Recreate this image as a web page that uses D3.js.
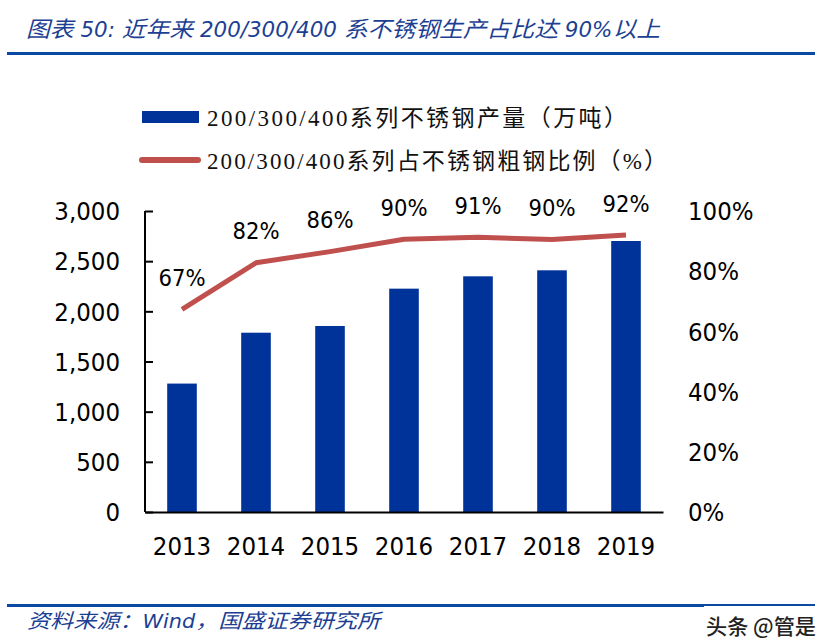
<!DOCTYPE html>
<html><head><meta charset="utf-8">
<script src="https://cdn.jsdelivr.net/npm/d3@7"></script>
<style>body{margin:0;background:#fff}svg{display:block}</style>
</head><body>
<svg id="c" width="825" height="642"></svg>
<script>
const years = ["2013","2014","2015","2016","2017","2018","2019"];
const output = [1280, 1787, 1854, 2226, 2349, 2409, 2701];
const share = [67.3, 82.8, 86.5, 90.6, 91.3, 90.5, 92.0];
const shareLabels = ["67%","82%","86%","90%","91%","90%","92%"];
const leftTicks = [0, 500, 1000, 1500, 2000, 2500, 3000];
const rightTicks = [0, 20, 40, 60, 80, 100];
const titleText = "图表 50:  近年来 200/300/400 系不锈钢生产占比达 90%以上";
const sourceText = "资料来源：Wind，国盛证券研究所";
const legendLabels = ["200/300/400系列不锈钢产量（万吨）", "200/300/400系列占不锈钢粗钢比例（%）"];
const watermark = "头条 @管是";

const svg = d3.select("#c");
const numFont = "'DejaVu Sans Condensed','DejaVu Sans',sans-serif";
const barColor = "#003399", lineColor = "#C0504D", blue = "#0B4AA2";

const x = d3.scaleBand().domain(years).range([145, 663]).paddingInner(0.6).paddingOuter(0.3);
const yL = d3.scaleLinear().domain([0, 3000]).range([512, 211]);
const yR = d3.scaleLinear().domain([0, 100]).range([512, 211]);

// title
svg.append("text").attr("x", 26).attr("y", 37)
  .attr("font-family", "'DejaVu Sans Condensed','Noto Sans CJK SC',sans-serif")
  .attr("font-style", "italic").attr("font-size", 22).attr("fill", "#1C3F94")
  .attr("textLength", 634).attr("lengthAdjust", "spacingAndGlyphs").text(titleText);
svg.append("rect").attr("x", 7).attr("y", 52).attr("width", 808).attr("height", 3).attr("fill", blue);

// legend
svg.append("rect").attr("x", 142).attr("y", 111).attr("width", 57).attr("height", 12).attr("fill", barColor);
svg.append("line").attr("x1", 142).attr("x2", 198).attr("y1", 160).attr("y2", 160)
  .attr("stroke", lineColor).attr("stroke-width", 6).attr("stroke-linecap", "round");
const legY = [118, 161], legEnd = [627, 667];
legendLabels.forEach((t, i) => {
  svg.append("text").attr("x", 207).attr("y", legY[i]).attr("dy", "0.35em")
    .attr("font-family", "'Liberation Serif','Noto Sans CJK SC',serif").attr("font-size", 23)
    .attr("fill", "#111").attr("textLength", legEnd[i] - 207).attr("lengthAdjust", "spacing").text(t);
});

// bars
svg.append("g").selectAll("rect").data(years).join("rect")
  .attr("x", d => x(d)).attr("width", x.bandwidth())
  .attr("y", (d, i) => yL(output[i])).attr("height", (d, i) => yL(0) - yL(output[i]))
  .attr("fill", barColor);

// left axis
const gL = svg.append("g").attr("transform", "translate(145,0)")
  .call(d3.axisRight(yL).tickValues(leftTicks).tickSize(8).tickFormat(""));
gL.select(".domain").attr("stroke", "#000").attr("stroke-width", 2).attr("d", "M0," + yL(3000) + "V" + yL(0));
gL.selectAll(".tick line").attr("stroke", "#000").attr("stroke-width", 2);
svg.append("g").selectAll("text").data(leftTicks).join("text")
  .attr("x", 120).attr("y", d => yL(d)).attr("dy", "0.36em").attr("text-anchor", "end")
  .attr("font-family", numFont).attr("font-size", 25.5).attr("fill", "#000")
  .text(d => d3.format(",")(d));

// right axis labels
svg.append("g").selectAll("text").data(rightTicks).join("text")
  .attr("x", 688).attr("y", d => yR(d)).attr("dy", "0.36em").attr("text-anchor", "start")
  .attr("font-family", numFont).attr("font-size", 25.5).attr("fill", "#000")
  .text(d => d + "%");

// x axis
const gX = svg.append("g").attr("transform", "translate(0,512)")
  .call(d3.axisBottom(x).tickSize(0).tickPadding(25));
gX.select(".domain").attr("stroke", "#000").attr("stroke-width", 2);
gX.selectAll("text").attr("font-family", numFont).attr("font-size", 25.5).attr("fill", "#000");

// line
const line = d3.line().x((d, i) => x(years[i]) + x.bandwidth() / 2).y(d => yR(d));
svg.append("path").datum(share).attr("d", line).attr("fill", "none")
  .attr("stroke", lineColor).attr("stroke-width", 5).attr("stroke-linejoin", "round");
svg.append("g").selectAll("text").data(share).join("text")
  .attr("x", (d, i) => x(years[i]) + x.bandwidth() / 2).attr("y", d => yR(d) - 32)
  .attr("dy", "0.36em").attr("text-anchor", "middle")
  .attr("font-family", numFont).attr("font-size", 23.5).attr("fill", "#000")
  .text((d, i) => shareLabels[i]);

// footer
svg.append("rect").attr("x", 7).attr("y", 604).attr("width", 808).attr("height", 3).attr("fill", blue);
svg.append("text").attr("x", 27).attr("y", 621).attr("dy", "0.36em")
  .attr("font-family", "'DejaVu Sans Condensed','Noto Sans CJK SC',sans-serif")
  .attr("font-style", "italic").attr("font-size", 20).attr("fill", "#1C3F94")
  .attr("textLength", 353).attr("lengthAdjust", "spacingAndGlyphs").text(sourceText);
svg.append("rect").attr("x", 704).attr("y", 606).attr("width", 115).attr("height", 34).attr("fill", "#fff");
svg.append("text").attr("x", 706).attr("y", 626).attr("dy", "0.36em")
  .attr("font-family", "'Noto Sans CJK SC',sans-serif").attr("font-size", 21).attr("font-weight", 500).attr("fill", "#222")
  .attr("textLength", 110).attr("lengthAdjust", "spacingAndGlyphs").text(watermark);
</script>
</body></html>
